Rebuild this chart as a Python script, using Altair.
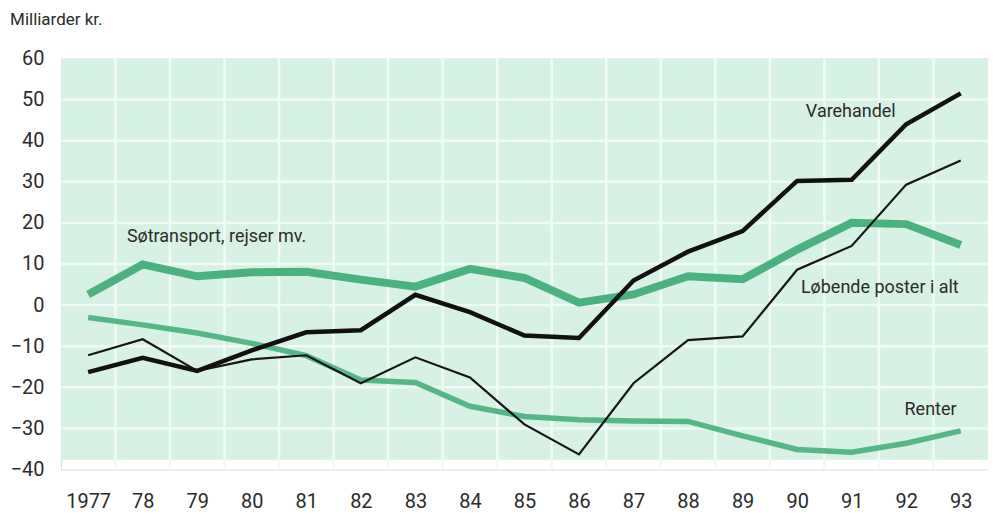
import altair as alt
import pandas as pd

years = list(range(1977, 1994))
varehandel = [-16.3, -12.8, -16.0, -11.0, -6.6, -6.1, 2.5, -1.7, -7.4, -8.0, 6.0, 13.0, 18.0, 30.2, 30.5, 44.0, 51.5]
lobende = [-12.2, -8.3, -16.0, -13.2, -12.2, -19.0, -12.7, -17.6, -29.0, -36.3, -19.0, -8.5, -7.6, 8.6, 14.4, 29.3, 35.2]
sotransport = [2.6, 9.9, 7.0, 8.0, 8.1, 6.2, 4.5, 8.8, 6.6, 0.6, 2.6, 7.0, 6.3, 13.5, 20.0, 19.7, 14.6]
renter = [-3.0, -4.8, -6.8, -9.3, -12.3, -18.2, -18.8, -24.6, -27.1, -27.9, -28.2, -28.3, -31.8, -35.1, -35.8, -33.6, -30.6]

y_ticks = [-40, -30, -20, -10, 0, 10, 20, 30, 40, 50, 60]
grid_values = [-30, -20, -10, 0, 10, 20, 30, 40, 50]
grid_years = [1977.5, 1978.5, 1979.5, 1980.5, 1981.5, 1982.5, 1983.5, 1984.5,
              1985.5, 1986.5, 1987.5, 1988.5, 1989.5, 1990.5, 1991.5, 1992.5]

panel_x = [1976.5]
panel_x2 = [1993.5]
panel_y = [-37.6]
panel_y2 = [60]

label_text = ["Søtransport, rejser mv.", "Varehandel", "Løbende poster i alt", "Renter"]
label_x = [1977.71, 1990.16, 1990.07, 1991.97]
label_y = [16.6, 46.9, 4.2, -25.4]

FONT = "Roboto"
TXT = "#2b2b2b"
GRID = "#f0fbf5"

X = alt.X("year:Q",
          scale=alt.Scale(domain=[1976.5, 1993.5], nice=False, zero=False),
          axis=alt.Axis(values=years, grid=False, ticks=False, domain=False, title=None,
                        labelExpr="datum.value == 1977 ? '1977' : slice(toString(datum.value), 2)",
                        labelFont=FONT, labelFontSize=20, labelColor=TXT,
                        labelPadding=38, labelBaseline="alphabetic", labelFlush=False))
Y = alt.Y("value:Q",
          scale=alt.Scale(domain=[-40, 60], nice=False, zero=False),
          axis=alt.Axis(values=y_ticks, grid=False,
                        ticks=False, domain=False, title=None,
                        labelFont=FONT, labelFontSize=20, labelColor=TXT,
                        labelPadding=17, labelFlush=False))


def series_df(vals):
    return pd.DataFrame({"year": years, "value": vals})


panel = alt.Chart(pd.DataFrame({"year": panel_x, "year2": panel_x2,
                                "value": panel_y, "value2": panel_y2})).mark_rect(
    color="#d7f2e4").encode(x=X, x2="year2:Q", y=Y, y2="value2:Q")

vgrid = alt.Chart(pd.DataFrame({"year": grid_years})).mark_rule(
    color=GRID, strokeWidth=2.5).encode(x=X)
hgrid = alt.Chart(pd.DataFrame({"value": grid_values})).mark_rule(
    color=GRID, strokeWidth=2.5).encode(y=Y)

sot = alt.Chart(series_df(sotransport)).mark_line(
    color="#4bb27f", strokeWidth=8).encode(x=X, y=Y)
ren = alt.Chart(series_df(renter)).mark_line(
    color="#55b687", strokeWidth=5.5).encode(x=X, y=Y)
lob = alt.Chart(series_df(lobende)).mark_line(
    color="#151515", strokeWidth=2.2).encode(x=X, y=Y)
var = alt.Chart(series_df(varehandel)).mark_line(
    color="#111111", strokeWidth=4.5).encode(x=X, y=Y)

labels = alt.Chart(pd.DataFrame({"year": label_x, "value": label_y, "text": label_text})).mark_text(
    align="left", baseline="middle", font=FONT, fontSize=18, color=TXT).encode(
    x=X, y=Y, text="text:N")

chart = alt.layer(panel, vgrid, hgrid, sot, ren, lob, var, labels).properties(
    width=929, height=412,
    autosize="none",
    padding={"left": 53, "top": 50, "right": 0, "bottom": 44},
    title=alt.Title("Milliarder kr.", anchor="start", dx=0, offset=19,
                    font=FONT, fontSize=17, fontWeight="normal", color=TXT),
).configure_view(stroke=None).configure(background="white")

chart.save("out.html", embed_options={"renderer": "svg", "actions": False})
